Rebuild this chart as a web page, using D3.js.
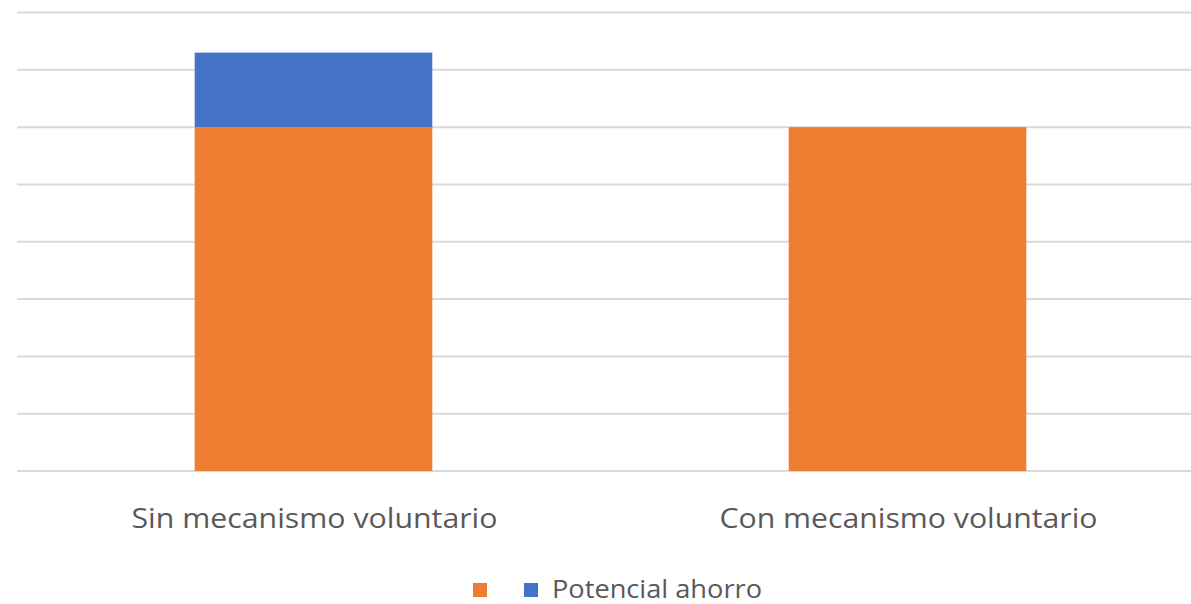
<!DOCTYPE html>
<html>
<head>
<meta charset="utf-8">
<script src="https://cdn.jsdelivr.net/npm/d3@7"></script>
<style>
  body { margin: 0; background: #fff; }
  svg { display: block; }
  text { font-family: "Open Sans", sans-serif; fill: #595959; }
</style>
</head>
<body>
<svg id="chart" width="1191" height="604"></svg>
<script>
// data
const categories = ['Sin mecanismo voluntario', 'Con mecanismo voluntario'];
const seriesNames = ['', 'Potencial ahorro'];
const baseValues = [6, 6];
const ahorroValues = [1.3, 0];
const yTicks = [0, 1, 2, 3, 4, 5, 6, 7, 8];
const colors = ['#ED7D31', '#4472C4'];

const svg = d3.select('#chart');

const x = d3.scaleBand()
  .domain(categories)
  .range([16.5, 1204.5])
  .paddingInner(0.6)
  .paddingOuter(0.3);

const y = d3.scaleLinear().domain([0, 8]).range([471, 12.5]);

// gridlines
svg.append('g')
  .selectAll('line')
  .data(yTicks)
  .join('line')
  .attr('x1', 17).attr('x2', 1191)
  .attr('y1', d => y(d)).attr('y2', d => y(d))
  .attr('stroke', '#d9d9d9')
  .attr('stroke-width', 2);

// stacked bars
const rows = categories.map((c, i) => ({ cat: c, base: baseValues[i], ahorro: ahorroValues[i] }));
const stack = d3.stack().keys(['base', 'ahorro'])(rows);

svg.append('g')
  .selectAll('g')
  .data(stack)
  .join('g')
  .attr('fill', (d, i) => colors[i])
  .selectAll('rect')
  .data(d => d.filter(p => p[1] > p[0]))
  .join('rect')
  .attr('x', d => x(d.data.cat))
  .attr('width', x.bandwidth())
  .attr('y', d => y(d[1]))
  .attr('height', d => y(d[0]) - y(d[1]));

// category labels (widths tuned to match the original font)
const labelWidths = [366, 378];
svg.append('g')
  .selectAll('text')
  .data(categories)
  .join('text')
  .attr('x', d => x(d) + x.bandwidth() / 2 + 1)
  .attr('y', 528)
  .attr('text-anchor', 'middle')
  .attr('font-size', 27)
  .attr('textLength', (d, i) => labelWidths[i])
  .attr('lengthAdjust', 'spacingAndGlyphs')
  .text(d => d);

// legend
const legendX = [473, 524];
const legend = svg.append('g')
  .selectAll('g')
  .data(seriesNames)
  .join('g')
  .attr('transform', (d, i) => `translate(${legendX[i]},583)`);
legend.append('rect')
  .attr('width', 14).attr('height', 14)
  .attr('fill', (d, i) => colors[i]);
legend.filter(d => d).append('text')
  .attr('x', 28).attr('y', 15)
  .attr('font-size', 25)
  .attr('textLength', 210)
  .attr('lengthAdjust', 'spacingAndGlyphs')
  .text(d => d);
</script>
</body>
</html>
